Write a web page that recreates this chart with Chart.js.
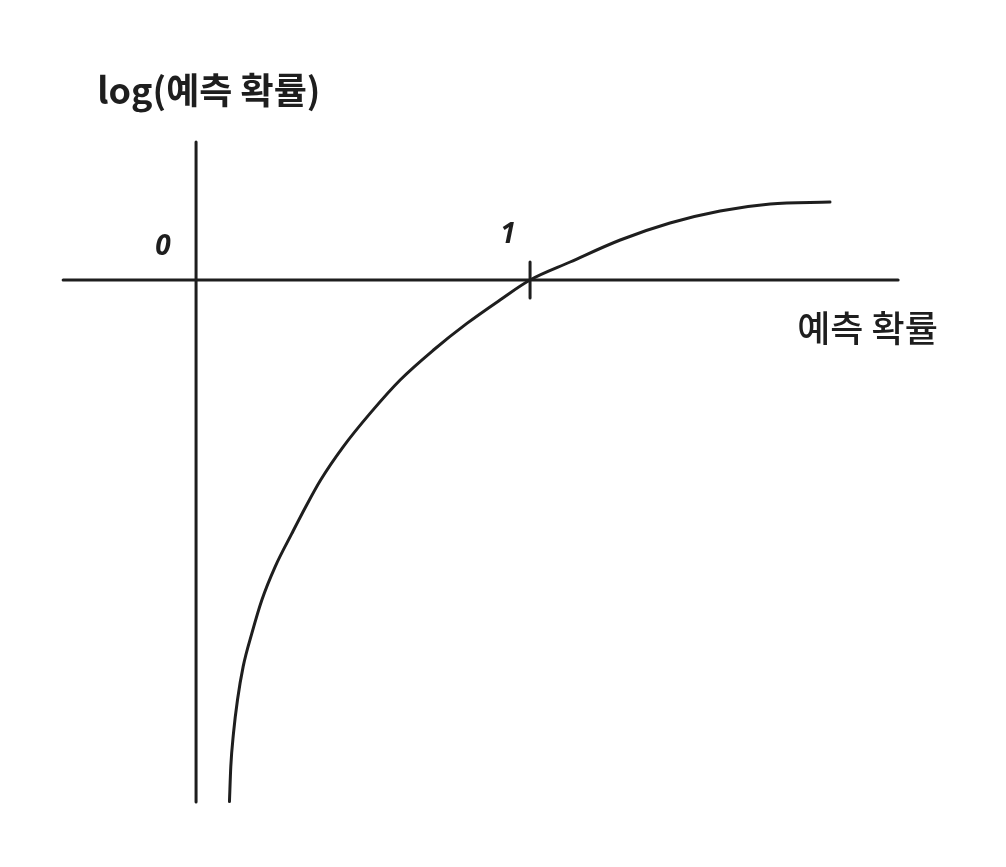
<!DOCTYPE html>
<html>
<head>
<meta charset="utf-8">
<script src="https://cdn.jsdelivr.net/npm/chart.js@4.4.1/dist/chart.umd.min.js"></script>
<style>
  html, body { margin: 0; padding: 0; background: #fff; }
  #wrap { width: 1006px; height: 867px; position: relative; }
</style>
</head>
<body>
<div id="wrap"><canvas id="chart"></canvas></div>
<script>
// curve (x: predicted prob, y: log value, sketch units)
const curveX = [0.100, 0.104, 0.112, 0.124, 0.141, 0.167, 0.197, 0.237, 0.287, 0.328, 0.373, 0.441, 0.521, 0.611, 0.711, 0.811, 0.910, 1.0, 1.120, 1.270, 1.419, 1.569, 1.719, 1.898];
const curveY = [-2.608, -2.433, -2.267, -2.10, -1.933, -1.767, -1.60, -1.433, -1.267, -1.135, -1.00, -0.833, -0.667, -0.50, -0.35, -0.217, -0.10, 0, 0.09, 0.20, 0.285, 0.345, 0.38, 0.39];

// axis lines and the tick at 1
const xAxisX = [-0.398, 2.102];
const xAxisY = [0, 0];
const yAxisX = [0, 0];
const yAxisY = [0.69, -2.61];
const tickX = [1, 1];
const tickY = [0.09, -0.09];

const tickLabels = ['0', '1'];
const yTitle = 'log(예측 확률)';
const xTitle = '예측 확률';

const INK = '#1e1e1e';
const toPts = (xs, ys) => xs.map((x, i) => ({ x: x, y: ys[i] }));

const lineStyle = {
  borderColor: INK,
  borderWidth: 3,
  pointRadius: 0,
  borderCapStyle: 'round',
  borderJoinStyle: 'round',
  fill: false,
};

const labelPlugin = {
  id: 'sketchLabels',
  afterDatasetsDraw(chart) {
    const { ctx, scales: { x, y } } = chart;
    ctx.save();
    ctx.fillStyle = INK;
    ctx.textBaseline = 'middle';

    ctx.font = 'italic bold 28px "Noto Sans", "DejaVu Sans", sans-serif';
    ctx.textAlign = 'center';
    ctx.fillText(tickLabels[0], x.getPixelForValue(-0.099), y.getPixelForValue(0.165));
    ctx.fillText(tickLabels[1], x.getPixelForValue(0.934), y.getPixelForValue(0.225));

    ctx.textAlign = 'left';
    ctx.font = 'bold 36px "Noto Sans CJK KR", sans-serif';
    ctx.fillText(yTitle, x.getPixelForValue(-0.296), y.getPixelForValue(0.95));

    ctx.font = '500 36px "Noto Sans CJK KR", sans-serif';
    ctx.fillText(xTitle, x.getPixelForValue(1.8), y.getPixelForValue(-0.24));
    ctx.restore();
  }
};

new Chart(document.getElementById('chart'), {
  type: 'line',
  data: {
    datasets: [
      { ...lineStyle, label: 'x axis', data: toPts(xAxisX, xAxisY), tension: 0 },
      { ...lineStyle, label: 'y axis', data: toPts(yAxisX, yAxisY), tension: 0 },
      { ...lineStyle, label: 'tick', data: toPts(tickX, tickY), tension: 0 },
      { ...lineStyle, label: 'log', data: toPts(curveX, curveY), cubicInterpolationMode: 'monotone' },
    ]
  },
  options: {
    responsive: true,
    maintainAspectRatio: false,
    animation: false,
    layout: { padding: 0 },
    scales: {
      x: { type: 'linear', min: -0.587, max: 2.425, display: false },
      y: { type: 'linear', min: -2.935, max: 1.4, display: false },
    },
    plugins: {
      legend: { display: false },
      tooltip: { enabled: false },
    },
  },
  plugins: [labelPlugin],
});
</script>
</body>
</html>
